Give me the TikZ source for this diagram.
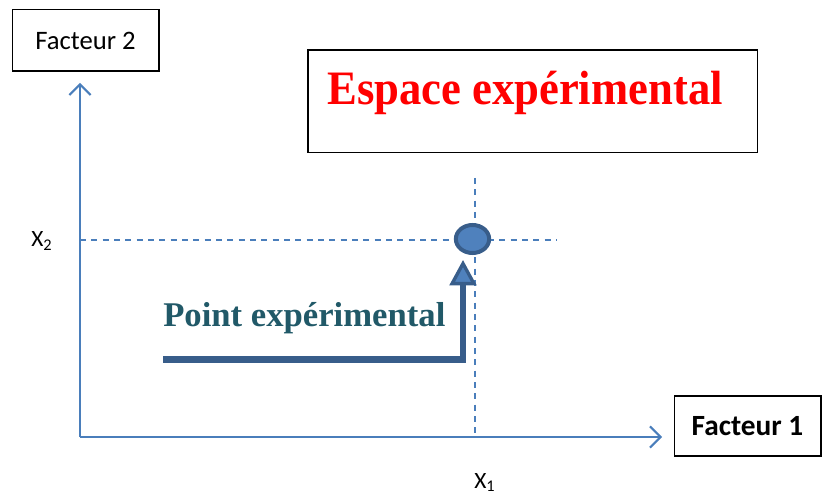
\documentclass[tikz,border=0pt]{standalone}
\usepackage{fontspec}
\setmainfont{Liberation Serif}
\newfontfamily\calibri{Carlito}
\usetikzlibrary{arrows.meta,positioning,calc,shapes.geometric}
\definecolor{axisblue}{HTML}{4A7EBB}
\definecolor{ptfill}{HTML}{4F81BD}
\definecolor{ptdraw}{HTML}{385D8A}
\definecolor{teal}{HTML}{215968}

\begin{document}
\begin{tikzpicture}[x=0.75pt,y=-0.75pt,
 box/.style={draw,line width=1pt,inner sep=0pt,align=center},
 axe/.style={axisblue,line width=1.5pt,-{Straight Barb[length=8pt,width=16pt]}},
 guide/.style={axisblue,line width=1pt,dash pattern=on 4.5pt off 4pt},
 arr/.style={ptdraw,line width=5pt,-{Triangle[length=19pt,width=20pt,fill=ptfill,line width=2.5pt]}}]
\useasboundingbox (0,0) rectangle (823,498);
% boxes
\node[box,minimum width=110pt,minimum height=46pt,font=\calibri\fontsize{20}{24}\selectfont] (f2) at (85.5,40.5) {Facteur 2};
\node[box,minimum width=110pt,minimum height=45pt,font=\calibri\bfseries\fontsize{22}{26}\selectfont] (f1) at (747.5,426) {Facteur 1};
\node[box,minimum width=337pt,minimum height=77pt] (esp) at (532.5,101.5) {};
\node[anchor=base west,inner sep=0pt,red,font=\bfseries\fontsize{36}{40}\selectfont] (esptxt) at (327,105) {\scalebox{0.93}[1]{Espace expérimental}};
% axes
\coordinate (O) at (80,437);
\coordinate (ytop) at (80,83);
\coordinate (xend) at (662,437);
\draw[axe] (O) -- (ytop);
\draw[axe] (O) -- (xend);
% guides through the point
\coordinate (x2) at (80,240);
\coordinate (x2end) at (557,240);
\coordinate (x1top) at (475,178);
\coordinate (x1) at (475,437);
\draw[guide] (x2) -- (x2end);
\draw[guide] (x1top) -- (x1);
\node[ellipse,draw=ptdraw,fill=ptfill,line width=3pt,minimum width=25pt,minimum height=21pt,inner sep=0pt] (pt) at (472.5,239) {};
\node[anchor=base west,inner sep=0pt,font=\calibri\fontsize{17.5}{20}\selectfont] (lx2) at (31,247) {X\textsubscript{2}};
\node[anchor=base west,inner sep=0pt,font=\calibri\fontsize{17.5}{20}\selectfont] (lx1) at (474,488) {X\textsubscript{1}};
% experimental point
\node[anchor=base west,inner sep=0pt,teal,font=\bfseries\fontsize{26}{30}\selectfont] (pttxt) at (163,327) {Point expérimental};
\coordinate (start) at (163,359.5);
\draw[arr] (start) -| ($(pt.south)+(-9.5,5)$);
\end{tikzpicture}
\end{document}
